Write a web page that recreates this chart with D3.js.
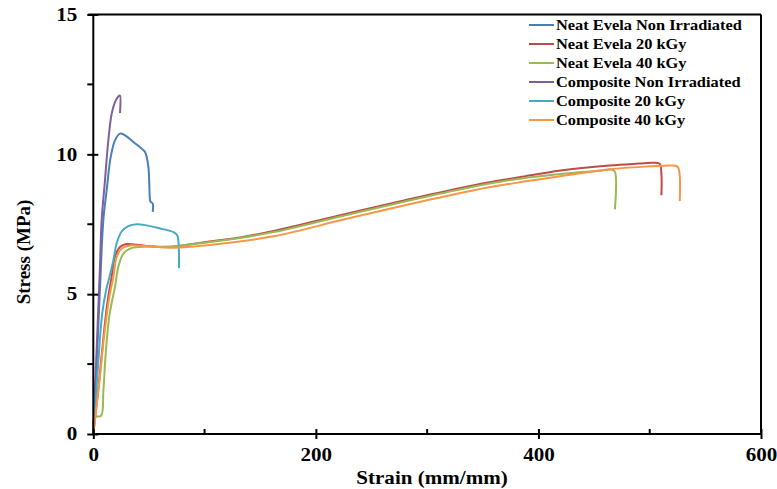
<!DOCTYPE html>
<html>
<head>
<meta charset="utf-8">
<script src="https://cdn.jsdelivr.net/npm/d3@7"></script>
<style>
  body { margin: 0; background: #fff; }
  svg text { font-family: "Liberation Serif", "Times New Roman", serif; font-weight: bold; }
</style>
</head>
<body>
<svg id="chart" width="777" height="489"></svg>
<script>
// series names and colours (Excel palette)
const seriesNames = [
  "Neat Evela Non Irradiated",
  "Neat Evela 20 kGy",
  "Neat Evela 40 kGy",
  "Composite Non Irradiated",
  "Composite 20 kGy",
  "Composite 40 kGy"
]
const seriesColors = ["#4a7ebb", "#be4b48", "#98b954", "#7d60a0", "#46aac5", "#f79646"]

// [strain, stress]
const neatNonIrr = [[0,0],[3,2.5],[6,5.2],[9,7.64],[12,8.71],[15.6,9.9],[19.5,10.5],[24,10.74],[28.5,10.68],
  [36,10.44],[43.5,10.2],[46.5,10.08],[49.5,9.55],[51,8.36],[51.6,8.3],[53.4,8.24],[53.4,7.94]]
const neat20 = [[0,0],[5,1.8],[10,3.8],[13,4.79],[16.5,5.62],[19.5,6.33],[24,6.69],[30,6.79],[39,6.77],
  [48,6.72],[60,6.69],[72,6.7],[102,6.87],[132,7.03],[162,7.26],[222,7.82],[282,8.38],[341,8.89],[383,9.18],
  [420,9.42],[464,9.6],[490,9.67],[503,9.7],[509,9.66],[510.5,9.3],[510.5,8.54]]
const neat40 = [[0,0],[1.2,0.6],[7,0.65],[9,1.5],[11,2.8],[14,4.1],[17,4.79],[19.5,5.26],[22.5,5.98],[27,6.45],
  [33,6.63],[42,6.69],[72,6.71],[102,6.85],[132,7.01],[162,7.22],[222,7.78],[282,8.33],[341,8.84],[383,9.13],
  [420,9.3],[455,9.41],[466,9.45],[468.7,9.38],[468.7,8.03]]
const compNonIrr = [[0,0],[2,2],[4,4],[6,6],[7.5,7.64],[10.5,9.07],[13.5,10.5],[16.5,11.45],[19.5,11.87],
  [22.5,12.07],[24,12.1],[24,11.48]]
const comp20 = [[0,0],[4,2.3],[8,4.3],[11.5,5.14],[14.4,5.6],[18,6.2],[21,6.82],[25.5,7.24],[31.4,7.43],
  [39,7.5],[48,7.46],[60,7.35],[72,7.22],[75.5,7.1],[76.7,6.75],[77,5.93]]
const comp40 = [[0,0],[5,1.7],[10,3.6],[14,4.79],[18,5.62],[21,6.33],[25.5,6.63],[33,6.74],[45,6.72],
  [60,6.68],[72,6.66],[102,6.75],[162,7.07],[222,7.64],[282,8.2],[341,8.71],[383,9.0],[420,9.22],
  [464,9.47],[500,9.57],[518,9.6],[525,9.56],[526.8,9.3],[527,8.33]]
const seriesValues = [neatNonIrr, neat20, neat40, compNonIrr, comp20, comp40]

const xMajorTicks = [0, 200, 400, 600]
const xMinorTicks = [100, 300, 500]
const yMajorTicks = [0, 5, 10, 15]
const yMinorTicks = [2.5, 7.5, 12.5]

const svg = d3.select("#chart")
const m = { left: 93.3, right: 761, top: 14.5, bottom: 434 }
const stretch = 1.17 // the original picture is a bit wider than tall

const x = d3.scaleLinear().domain([0, 600]).range([m.left, m.right])
const y = d3.scaleLinear().domain([0, 15]).range([m.bottom, m.top])

// frame: top and right lines
svg.append("line").attr("x1", m.left - 5).attr("x2", m.right).attr("y1", m.top).attr("y2", m.top)
  .attr("stroke", "#000").attr("stroke-width", 2)
svg.append("line").attr("x1", m.right).attr("x2", m.right).attr("y1", m.top).attr("y2", m.bottom)
  .attr("stroke", "#000").attr("stroke-width", 2)

// curves
const line = d3.line()
  .x(d => x(d[0]))
  .y(d => y(d[1]))
  .curve(d3.curveCatmullRom.alpha(0.5))

svg.append("g").selectAll("path")
  .data(seriesValues)
  .join("path")
    .attr("d", line)
    .attr("fill", "none")
    .attr("stroke", (d, i) => seriesColors[i])
    .attr("stroke-width", 2)
    .attr("stroke-linejoin", "round")

// x axis
const xAxis = svg.append("g").attr("transform", `translate(0,${m.bottom})`)
  .call(d3.axisBottom(x).tickValues(xMajorTicks).tickSize(6).tickPadding(8).tickFormat(d3.format("d")))
xAxis.select(".domain").attr("stroke-width", 2).attr("d", `M${m.left},0H${m.right}`)
xAxis.selectAll(".tick line").attr("y1", -5).attr("y2", 5).attr("stroke-width", 2)
xAxis.selectAll(".tick text").attr("font-size", 18).attr("font-family", "Liberation Serif").attr("font-weight", "bold")
  .attr("transform", `scale(${stretch},1)`)
xAxis.selectAll(".minor").data(xMinorTicks).join("line").attr("class", "minor")
  .attr("x1", d => x(d)).attr("x2", d => x(d)).attr("y1", 0).attr("y2", -5)
  .attr("stroke", "#000").attr("stroke-width", 2)

// y axis
const yAxis = svg.append("g").attr("transform", `translate(${m.left},0)`)
  .call(d3.axisLeft(y).tickValues(yMajorTicks).tickSize(6).tickPadding(10).tickFormat(d3.format("d")))
yAxis.select(".domain").attr("stroke-width", 2).attr("d", `M0,${m.top}V${m.bottom + 1}`)
yAxis.selectAll(".tick line").attr("x1", -6).attr("x2", 5).attr("stroke-width", 2)
yAxis.selectAll(".tick text").attr("font-size", 18).attr("font-family", "Liberation Serif").attr("font-weight", "bold")
  .attr("x", 0).attr("transform", `translate(-16,0) scale(${stretch},1)`)
yAxis.selectAll(".minor").data(yMinorTicks).join("line").attr("class", "minor")
  .attr("y1", d => y(d)).attr("y2", d => y(d)).attr("x1", 0).attr("x2", -6)
  .attr("stroke", "#000").attr("stroke-width", 2)

// axis titles
svg.append("text").attr("transform", `translate(432,484) scale(${stretch},1)`).attr("text-anchor", "middle")
  .attr("font-size", 18).text("Strain (mm/mm)")
svg.append("text").attr("transform", "translate(30,252) rotate(-90)").attr("text-anchor", "middle")
  .attr("font-size", 19).text("Stress (MPa)")

// legend
const legend = svg.append("g").selectAll("g")
  .data(seriesNames)
  .join("g")
    .attr("transform", (d, i) => `translate(529,${25 + i * 19})`)
legend.append("line").attr("x1", 0).attr("x2", 25)
  .attr("stroke", (d, i) => seriesColors[i]).attr("stroke-width", 2)
legend.append("text").attr("transform", `translate(27,5) scale(${stretch},1)`)
  .attr("font-size", 14).text(d => d)
</script>
</body>
</html>
